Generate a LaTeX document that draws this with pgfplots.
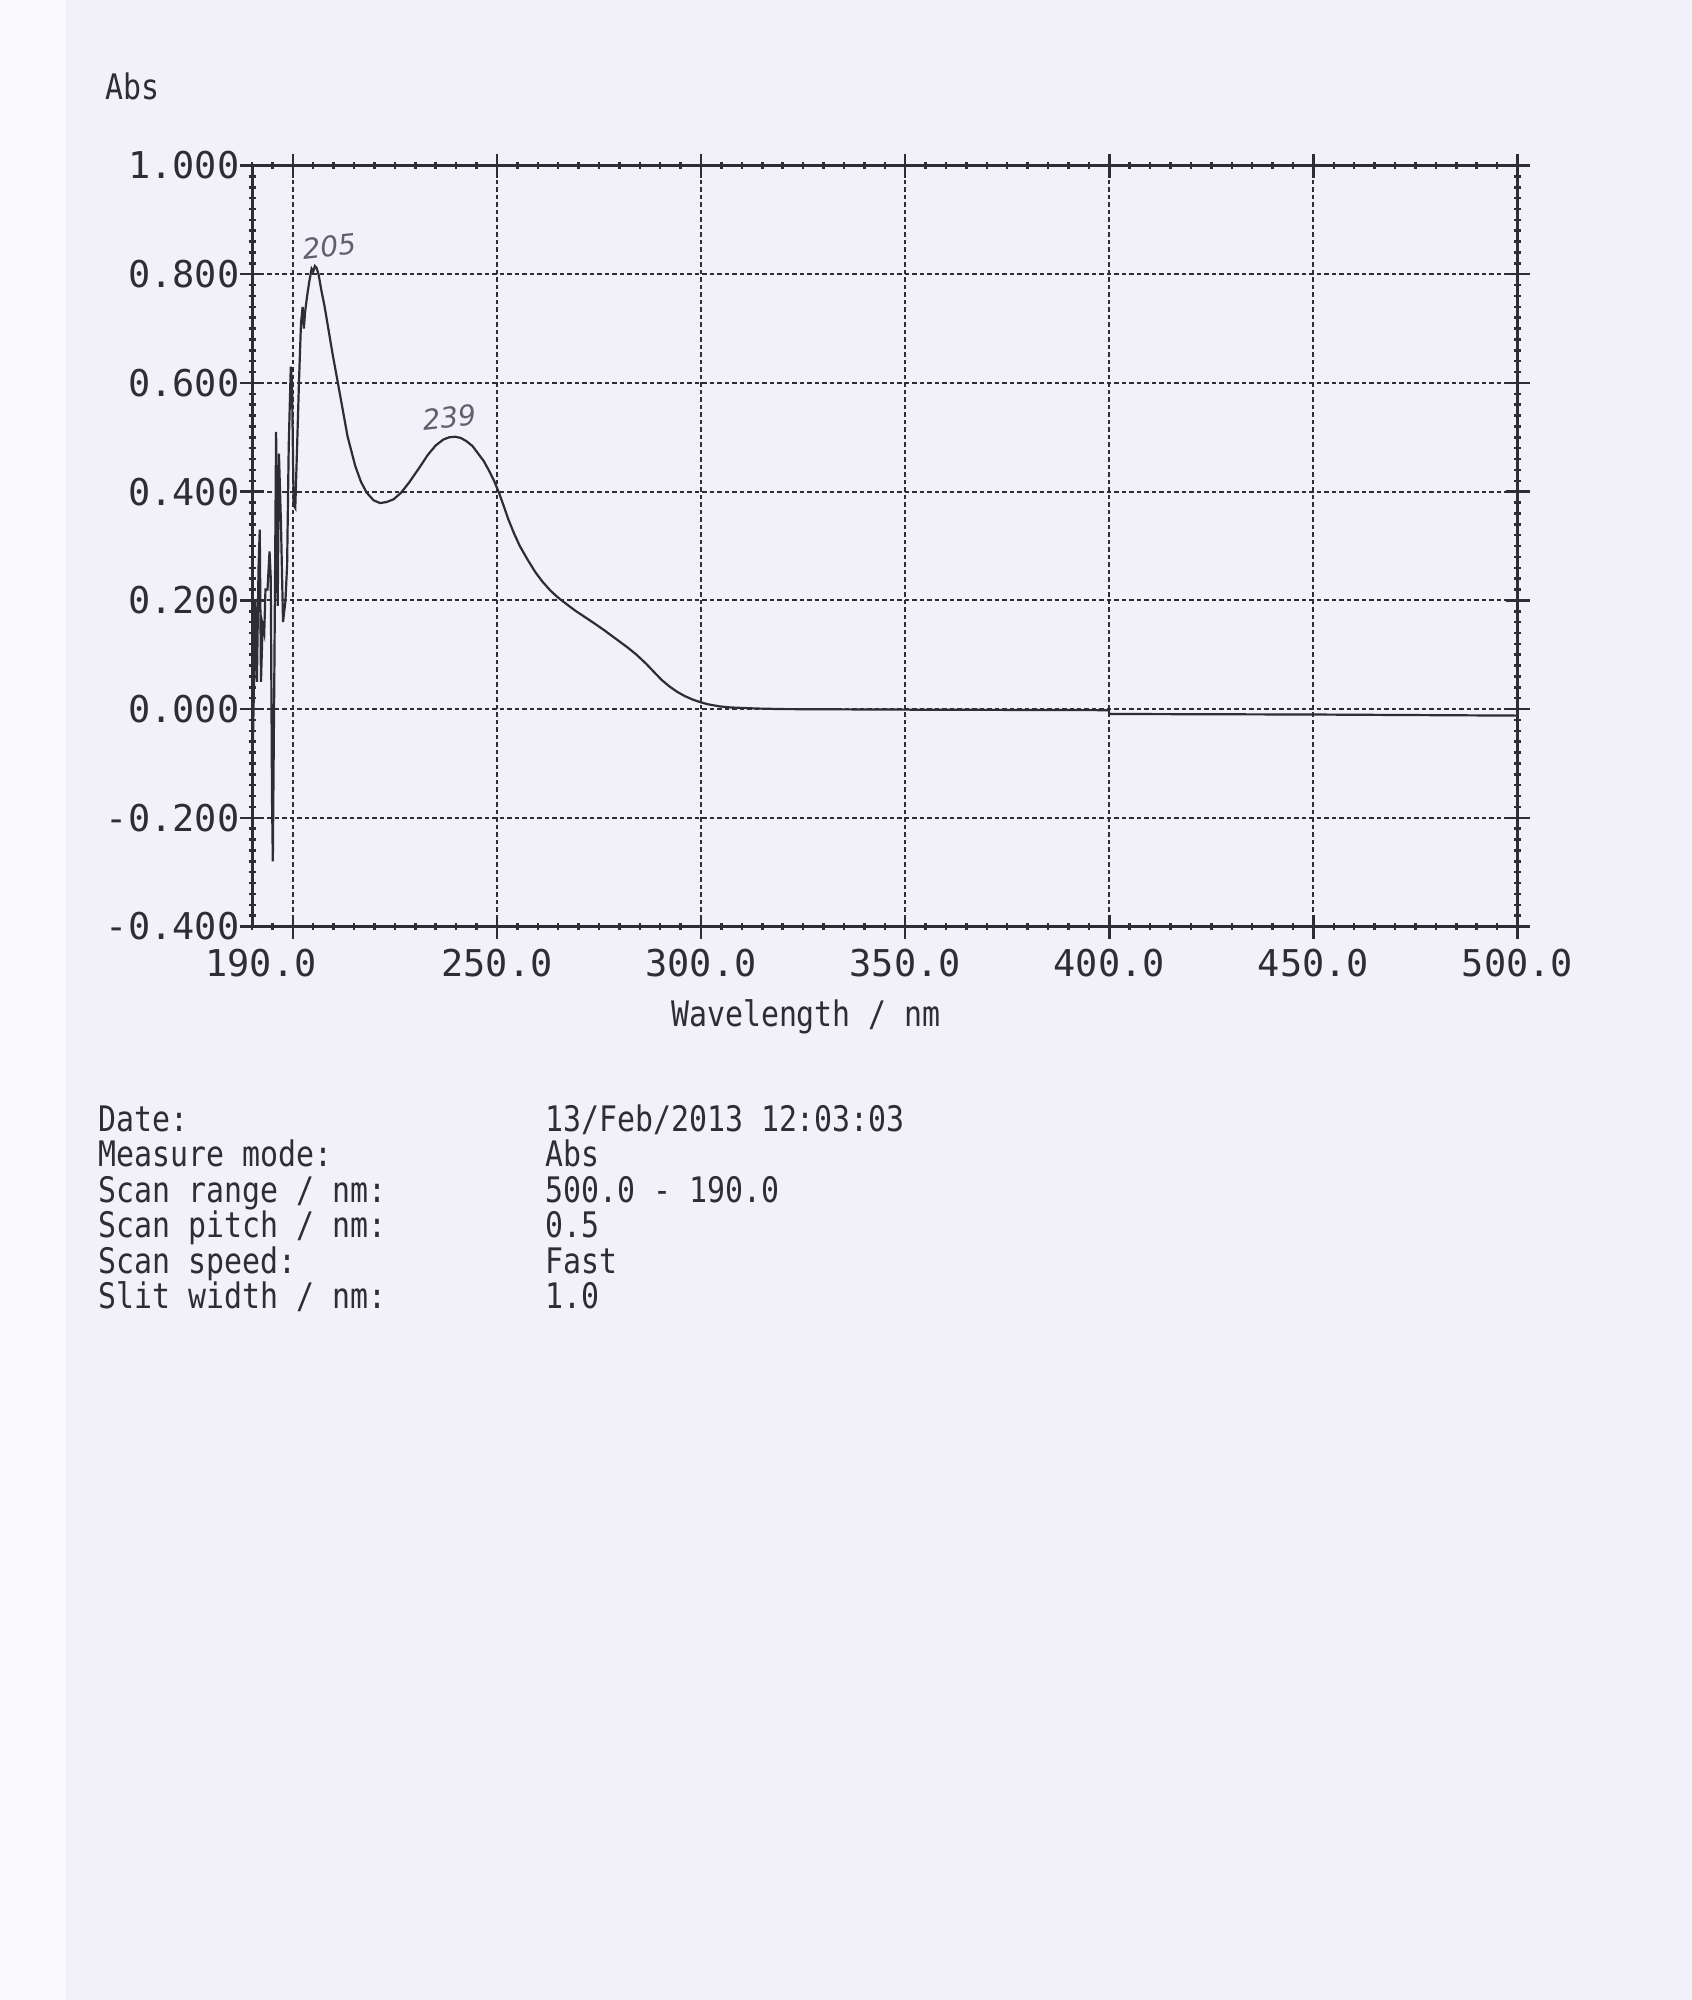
\documentclass[border=0pt]{standalone}
\usepackage{fontspec}
\usepackage{pgfplots}
\pgfplotsset{compat=1.18}
\setmainfont{DejaVu Sans Mono}
\newfontfamily\condmono[FakeStretch=0.85]{DejaVu Sans Mono}
\newfontfamily\tickfont{DejaVu Sans Mono}
\newfontfamily\handfont{DejaVu Sans}
\definecolor{paper}{RGB}{242,241,250}
\definecolor{strip}{RGB}{250,250,252}
\definecolor{ink}{RGB}{45,45,52}
\definecolor{pencil}{RGB}{95,95,110}

\pgfplotstableread{
x y
190.0 -0.15
190.4 0.01
190.8 0.20
191.2 0.05
191.6 0.26
191.9 0.33
192.2 0.05
192.6 0.155
193.0 0.14
193.3 0.22
193.8 0.22
194.3 0.29
194.6 0.24
194.9 -0.16
195.1 -0.28
195.5 0.09
195.9 0.51
196.3 0.19
196.6 0.47
197.1 0.34
197.6 0.16
197.9 0.18
198.2 0.20
198.6 0.265
199.0 0.485
199.5 0.63
199.8 0.60
200.2 0.375
200.6 0.37
201.0 0.47
201.5 0.60
202.0 0.71
202.4 0.74
202.7 0.70
203.0 0.73
203.5 0.76
204.0 0.785
204.6 0.81
205.0 0.805
205.4 0.815
205.8 0.812
206.3 0.80
207.0 0.77
207.8 0.74
209.7 0.655
211.5 0.581
213.4 0.502
215.3 0.447
216.7 0.418
218.1 0.398
219.8 0.384
221.4 0.379
223.0 0.381
224.7 0.386
226.5 0.398
228.4 0.416
230.8 0.442
233.1 0.468
235.0 0.485
236.9 0.496
238.3 0.500
239.7 0.501
241.1 0.499
242.5 0.493
244.0 0.484
245.3 0.471
246.8 0.456
248.1 0.438
249.3 0.420
250.5 0.398
251.6 0.375
252.8 0.349
254.2 0.323
255.6 0.300
257.5 0.275
259.4 0.252
261.2 0.234
263.1 0.218
265.0 0.205
266.9 0.194
269.2 0.181
271.6 0.169
274.0 0.157
276.3 0.145
279.0 0.130
281.9 0.114
284.2 0.100
286.6 0.083
288.5 0.068
290.3 0.054
292.2 0.042
294.1 0.032
296.0 0.024
297.8 0.018
299.7 0.013
301.6 0.009
304.5 0.005
307.2 0.003
310.5 0.002
313.8 0.001
320.0 0.000
350.0 -0.001
399.9 -0.002
400.0 -0.009
450.0 -0.010
500.0 -0.012
}\spectrum

\begin{document}
\begin{tikzpicture}[x=1mm,y=1mm]
\path[use as bounding box, fill=paper] (0,0) rectangle (169.2,-200);
\fill[strip] (0,0) rectangle (6.6,-200);
\begin{axis}[
  at={(25.2mm,-92.65mm)}, anchor=south west,
  scale only axis, width=126.55mm, height=76.1mm,
  xmin=190, xmax=500, ymin=-0.4, ymax=1.0,
  xtick={200,250,300,350,400,450,500},
  xticklabels={,250.0,300.0,350.0,400.0,450.0,500.0},
  extra x ticks={192.2}, extra x tick labels={190.0},
  extra x tick style={grid=none, major tick style={draw=none}},
  minor xtick={190,195,...,500},
  ytick={-0.4,-0.2,0,0.2,0.4,0.6,0.8,1.0},
  yticklabels={-0.400,-0.200,0.000,0.200,0.400,0.600,0.800,1.000},
  minor y tick num=9,
  xmajorgrids, ymajorgrids,
  major grid style={ink, line width=0.2mm, dash pattern=on 0.45mm off 0.3mm},
  tick align=center,
  major tick length=2.4mm, minor tick length=0.7mm,
  every tick/.style={ink, line width=0.25mm},
  axis line style={ink, line width=0.3mm},
  tick label style={font=\tickfont\fontsize{10.5}{12}\selectfont, text=ink, inner sep=0pt},
  xticklabel style={anchor=north, yshift=-0.95mm},
  yticklabel style={anchor=east, xshift=0mm},
]
\addplot[ink, line width=0.22mm] table[x=x, y=y] {\spectrum};
\node[pencil, rotate=6, font=\handfont\itshape\fontsize{8}{9}\selectfont] at (axis cs:208.9,0.851) {205};
\node[pencil, rotate=6, font=\handfont\itshape\fontsize{8}{9}\selectfont] at (axis cs:238.3,0.537) {239};
\end{axis}
\begin{scope}[font=\condmono\fontsize{10}{12}\selectfont, text=ink]
\node[anchor=base west, inner sep=0pt] at (10.45,-9.9) {Abs};
\node[anchor=base, inner sep=0pt] at (80.6,-102.6) {Wavelength / nm};
\node[anchor=base west, inner sep=0pt] at (9.8,-113.1) {Date:};
\node[anchor=base west, inner sep=0pt] at (9.8,-116.65) {Measure mode:};
\node[anchor=base west, inner sep=0pt] at (9.8,-120.2) {Scan range / nm:};
\node[anchor=base west, inner sep=0pt] at (9.8,-123.75) {Scan pitch / nm:};
\node[anchor=base west, inner sep=0pt] at (9.8,-127.3) {Scan speed:};
\node[anchor=base west, inner sep=0pt] at (9.8,-130.85) {Slit width / nm:};
\node[anchor=base west, inner sep=0pt] at (54.45,-113.1) {13/Feb/2013 12:03:03};
\node[anchor=base west, inner sep=0pt] at (54.45,-116.65) {Abs};
\node[anchor=base west, inner sep=0pt] at (54.45,-120.2) {500.0 - 190.0};
\node[anchor=base west, inner sep=0pt] at (54.45,-123.75) {0.5};
\node[anchor=base west, inner sep=0pt] at (54.45,-127.3) {Fast};
\node[anchor=base west, inner sep=0pt] at (54.45,-130.85) {1.0};
\end{scope}
\end{tikzpicture}
\end{document}
